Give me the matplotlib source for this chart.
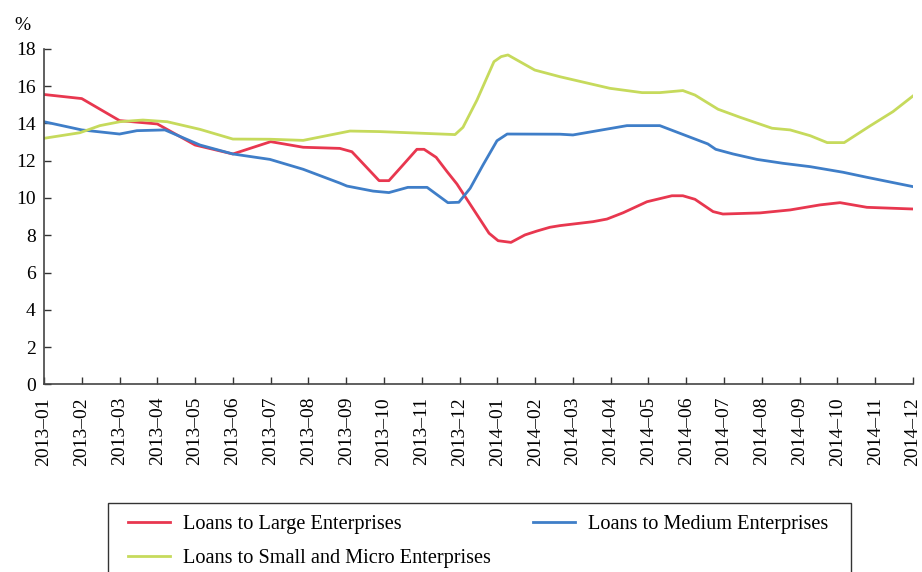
import matplotlib

matplotlib.use('Agg')
import matplotlib.pyplot as plt
from matplotlib.patches import Rectangle

plt.rcParams['font.family'] = ['Liberation Serif', 'DejaVu Serif']

months = ["2013–%02d" % m for m in range(1, 13)] + ["2014–%02d" % m for m in range(1, 13)]

# x positions are in month units (0 = 2013-01)
large_x = [0, 1, 2, 3, 4, 5, 6, 6.86, 7.83, 8.15, 8.42, 8.87, 9.13, 9.48, 9.87, 10.06,
           10.38, 10.67, 10.93, 11.78, 12.02, 12.36, 12.73, 13.05, 13.39, 13.66, 14.53,
           14.9, 15.33, 15.96, 16.62, 16.91, 17.23, 17.71, 17.97, 18.95, 19.75, 20.54,
           21.07, 21.78, 23]
large_y = [15.55, 15.33, 14.15, 13.97, 12.84, 12.36, 13.02, 12.72, 12.66, 12.48, 11.9,
           10.93, 10.93, 11.72, 12.61, 12.61, 12.18, 11.41, 10.75, 8.11, 7.71, 7.62,
           8.02, 8.23, 8.43, 8.52, 8.73, 8.87, 9.21, 9.8, 10.12, 10.12, 9.93, 9.27, 9.14,
           9.2, 9.36, 9.63, 9.75, 9.5, 9.41]

medium_x = [0, 1, 2, 2.46, 3.2, 4.13, 5, 5.98, 6.86, 7.83, 8.02, 8.71, 9.13, 9.63, 10.14,
            10.69, 10.98, 11.28, 11.62, 11.99, 12.26, 13.66, 14.0, 15.43, 16.3, 17.18,
            17.57, 17.78, 18.24, 18.87, 19.56, 20.28, 21.15, 21.78, 23]
medium_y = [14.09, 13.65, 13.43, 13.61, 13.65, 12.84, 12.36, 12.07, 11.54, 10.8, 10.64,
            10.37, 10.29, 10.57, 10.57, 9.75, 9.77, 10.52, 11.77, 13.07, 13.43, 13.42,
            13.38, 13.88, 13.88, 13.2, 12.9, 12.61, 12.36, 12.07, 11.86, 11.68, 11.38,
            11.11, 10.61]

small_x = [0, 0.95, 1.48, 2.01, 2.62, 3.26, 4.13, 5, 5.98, 6.86, 8.1, 8.89, 10.88, 11.09,
           11.46, 11.91, 12.1, 12.28, 12.99, 13.66, 14.98, 15.83, 16.3, 16.91, 17.23,
           17.84, 18.42, 19.27, 19.75, 20.28, 20.73, 21.18, 21.86, 22.47, 23]
small_y = [13.2, 13.5, 13.88, 14.09, 14.18, 14.09, 13.68, 13.16, 13.15, 13.09, 13.59,
           13.56, 13.4, 13.79, 15.25, 17.31, 17.58, 17.67, 16.86, 16.5, 15.88, 15.65,
           15.65, 15.76, 15.52, 14.76, 14.33, 13.74, 13.65, 13.34, 12.97, 12.97, 13.86,
           14.63, 15.47]

fig = plt.figure(figsize=(9.22, 5.72), dpi=100)
ax = fig.add_axes([0.0477, 0.3278, 0.9425, 0.5869])

l1, = ax.plot(large_x, large_y, color="#E8374F", lw=2, label="Loans to Large Enterprises")
l2, = ax.plot(medium_x, medium_y, color="#3F7EC8", lw=2, label="Loans to Medium Enterprises")
l3, = ax.plot(small_x, small_y, color="#C6DA5C", lw=2,
              label="Loans to Small and Micro Enterprises")

ax.set_xlim(0, 23)
ax.set_ylim(0, 18)
ax.set_yticks(range(0, 19, 2))
ax.set_xticks(range(24))
ax.set_xticklabels(months, rotation=90, fontsize=14)
ax.tick_params(axis='y', labelsize=14, direction='in', length=5, width=1, colors='#333333',
               labelcolor='black', pad=6)
ax.tick_params(axis='x', direction='in', length=5, width=1, colors='#333333',
               labelcolor='black', pad=9)
for s in ["top", "right"]:
    ax.spines[s].set_visible(False)
for s in ["left", "bottom"]:
    ax.spines[s].set_color('#444444')
    ax.spines[s].set_linewidth(1.2)

fig.text(0.016, 0.956, "%", fontsize=14, ha='left', va='center')

# legend box runs off the bottom of the figure, so draw the frame separately
fig.patches.append(Rectangle((108 / 922, -0.05), (851 - 108) / 922, 0.05 + 1 - 503 / 572,
                             transform=fig.transFigure, fill=False,
                             edgecolor='#333333', lw=1.0))

# column-major fill: Large / Small in column 1, Medium in column 2
ha = [l1, l3, l2]
lb = [h.get_label() for h in ha]
leg = fig.legend(ha, lb, loc='upper left', ncol=2,
                 bbox_to_anchor=(128 / 922, 1 - 515 / 572), fontsize=14.6,
                 frameon=False, handlelength=2.07, borderpad=0, labelspacing=0.72,
                 handletextpad=0.65, columnspacing=2.05, borderaxespad=0)

plt.savefig("out.png", dpi=100)
